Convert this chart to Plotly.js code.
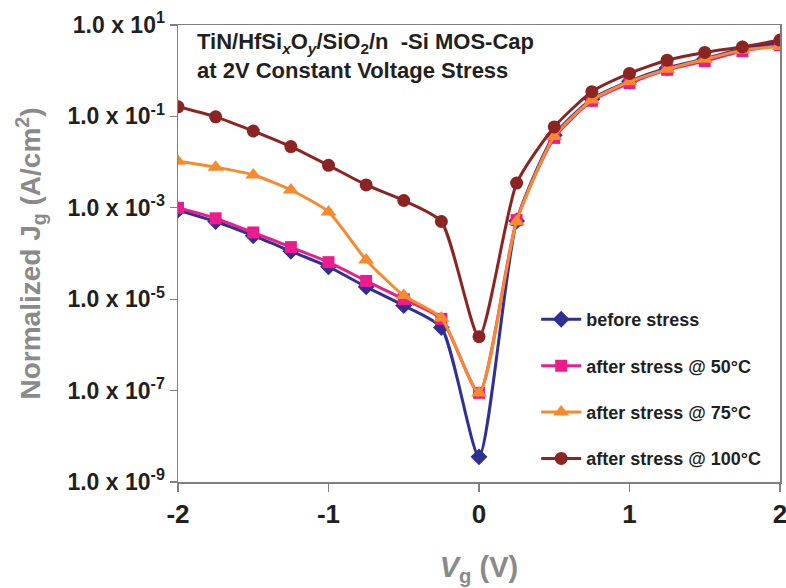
<!DOCTYPE html>
<html><head><meta charset="utf-8">
<script src="https://cdn.plot.ly/plotly-3.0.1.min.js"></script>
<style>body{margin:0;background:#fff}#chart{width:786px;height:588px}</style>
</head><body><div id="chart"></div>
<script>
const vg = [-2,-1.75,-1.5,-1.25,-1,-0.75,-0.5,-0.25,0,0.25,0.5,0.75,1,1.25,1.5,1.75,2];
// log10 of normalized Jg (A/cm^2)
const logBefore = [-3.05,-3.30,-3.61,-3.95,-4.29,-4.73,-5.14,-5.62,-8.45,-3.29,-1.41,-0.62,-0.23,0.06,0.26,0.48,0.61];
const log50C   = [-3.00,-3.23,-3.54,-3.86,-4.19,-4.60,-5.00,-5.43,-7.05,-3.27,-1.47,-0.66,-0.27,0.02,0.21,0.43,0.56];
const log75C   = [-1.98,-2.11,-2.28,-2.61,-3.09,-4.14,-4.92,-5.41,-7.05,-3.30,-1.44,-0.64,-0.24,0.03,0.25,0.45,0.53];
const log100C  = [-0.79,-1.01,-1.32,-1.66,-2.07,-2.50,-2.84,-3.30,-5.82,-2.46,-1.23,-0.46,-0.06,0.23,0.40,0.52,0.67];
const seriesNames = ['before stress','after stress @ 50°C','after stress @ 75°C','after stress @ 100°C'];
const yTickVals = [1e1,1e-1,1e-3,1e-5,1e-7,1e-9];
const yTickText = ['1.0 x 10<sup>1</sup>','1.0 x 10<sup>-1</sup>','1.0 x 10<sup>-3</sup>','1.0 x 10<sup>-5</sup>','1.0 x 10<sup>-7</sup>','1.0 x 10<sup>-9</sup>'];
const xTickVals = [-2,-1,0,1,2];
const xTickText = ['-2','-1','0','1','2'];

const FONT = '"Liberation Sans", Arial, sans-serif';
const toLin = a => a.map(v => Math.pow(10, v));
const styles = [
  {color:'#2e3192', symbol:'diamond', size:13},
  {color:'#ec1c8c', symbol:'square', size:12},
  {color:'#f58a2f', symbol:'triangle-up', size:14},
  {color:'#8b2423', symbol:'circle', size:13}
];
const data = [logBefore, log50C, log75C, log100C];
const traces = data.map((d,i) => ({
  x: vg, y: toLin(d), type:'scatter', mode:'lines+markers', name: seriesNames[i],
  legendgroup: 'g'+i,
  line:{color:styles[i].color, width:3, shape:'spline', smoothing:0.6},
  marker:{color:styles[i].color, symbol:styles[i].symbol, size:styles[i].size}
}));

const layout = {
  width:786, height:588,
  margin:{l:178, r:6, t:25, b:106},
  paper_bgcolor:'#fff', plot_bgcolor:'#fff',
  font:{family:FONT, color:'#231f20'},
  showlegend:true,
  legend:{x:0.595, y:0.396, xanchor:'left', yanchor:'top', bgcolor:'rgba(0,0,0,0)',
          font:{family:FONT, size:18, color:'#231f20', weight:'bold'}, tracegroupgap:20, itemwidth:40},
  xaxis:{range:[-2,2], tickvals:xTickVals, ticktext:xTickText, ticklabeloverflow:'allow',
         showline:true, linecolor:'#808080', linewidth:1.5, mirror:true, showgrid:false, zeroline:false,
         ticks:'outside', ticklen:8, tickcolor:'#808080', tickwidth:1.2,
         tickfont:{family:FONT, size:26, color:'#231f20', weight:'bold'},
         title:{text:'<i>V</i><sub>g</sub> (V)', font:{family:FONT, size:29, color:'#8a8a8a', weight:'bold'}, standoff:29}},
  yaxis:{type:'log', range:[-9,1], tickvals:yTickVals, ticktext:yTickText,
         showline:true, linecolor:'#808080', linewidth:1.5, mirror:true, showgrid:false, zeroline:false,
         ticks:'outside', ticklen:7, tickcolor:'#808080', tickwidth:1.2,
         tickfont:{family:FONT, size:23, color:'#231f20', weight:'bold'},
         title:{text:'Normalized J<sub>g</sub> (A/cm<sup>2</sup>)', font:{family:FONT, size:28, color:'#8a8a8a', weight:'bold'}, standoff:18}},
  annotations:[
    {xref:'paper', yref:'paper', x:0.028, y:0.995, xanchor:'left', yanchor:'top', align:'left', showarrow:false,
     text:'TiN/HfSi<sub><i>x</i></sub>O<sub><i>y</i></sub>/SiO<sub>2</sub>/n  -Si MOS-Cap<br>at 2V Constant Voltage Stress',
     font:{family:FONT, size:22, color:'#231f20', weight:'bold'}}
  ]
};
Plotly.newPlot('chart', traces, layout, {displayModeBar:false, staticPlot:true});
</script></body></html>
